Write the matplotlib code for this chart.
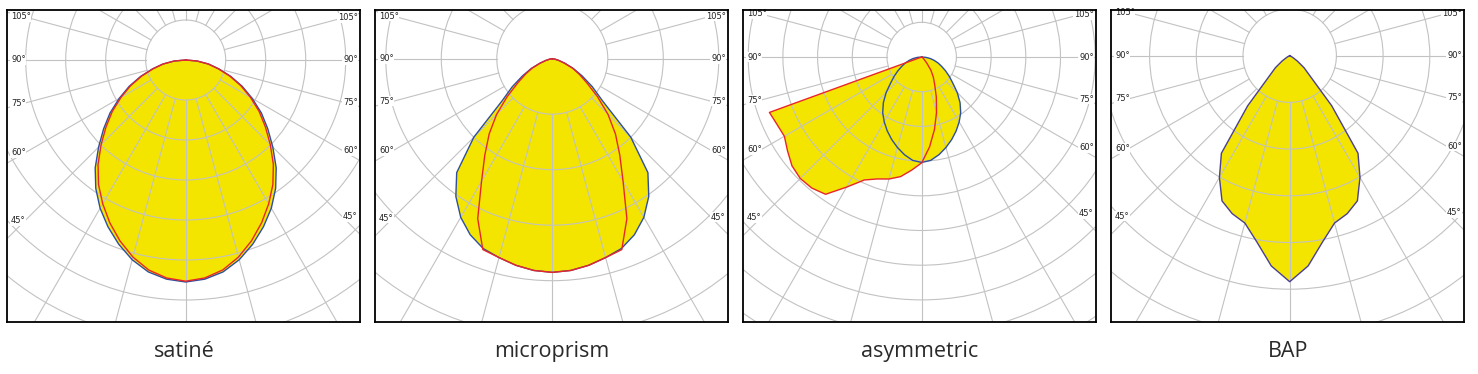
import numpy as np
import matplotlib.pyplot as plt
from matplotlib.patches import Circle

# intensity values, in units of one grid ring,
# gamma angle measured from nadir, 0..90 deg in 5 deg steps
angles = [0, 5, 10, 15, 20, 25, 30, 35, 40, 45, 50, 55, 60, 65, 70, 75, 80, 85, 90]

satine_c0 = [5.55, 5.50, 5.38, 5.17, 4.90, 4.60, 4.28, 3.92, 3.52, 3.08,
             2.68, 2.31, 1.92, 1.56, 1.20, 0.86, 0.58, 0.29, 0.0]
satine_c90 = [5.53, 5.47, 5.33, 5.10, 4.81, 4.49, 4.15, 3.80, 3.41, 2.99,
              2.60, 2.24, 1.87, 1.52, 1.17, 0.84, 0.57, 0.28, 0.0]

microprism_c0 = [3.85, 3.83, 3.78, 3.71, 3.64, 3.50, 3.30, 3.03, 2.68, 2.00,
                 1.18, 0.88, 0.62, 0.42, 0.24, 0.12, 0.05, 0.015, 0.0]
microprism_c90 = [3.85, 3.83, 3.78, 3.71, 3.66, 3.18, 2.55, 2.12, 1.77, 1.42,
                  1.06, 0.76, 0.56, 0.40, 0.23, 0.12, 0.05, 0.015, 0.0]

asym_c90 = [3.04, 2.99, 2.86, 2.70, 2.53, 2.35, 2.16, 1.96, 1.72, 1.45,
            1.17, 0.97, 0.79, 0.63, 0.50, 0.37, 0.25, 0.12, 0.0]
asym_c0_left = [3.05, 3.27, 3.50, 3.64, 3.74, 3.91, 4.33, 4.83, 4.93, 4.95,
                4.88, 4.72, 4.57, 4.60, 4.67, 0.0, 0.0, 0.0, 0.0]
asym_c0_right = [3.05, 2.60, 2.12, 1.65, 1.23, 0.89, 0.67, 0.46, 0.22, 0.10,
                 0.05, 0.02, 0.0, 0.0, 0.0, 0.0, 0.0, 0.0, 0.0]

bap_c0 = [4.84, 4.52, 4.05, 3.71, 3.60, 3.43, 3.01, 2.55, 1.40, 0.62,
          0.40, 0.20, 0.08, 0.03, 0.0, 0.0, 0.0, 0.0, 0.0]

names = ["satiné", "microprism", "asymmetric", "BAP"]
label_angles = [45, 60, 75, 90, 105]

YELLOW = "#f3e500"
BLUE = "#2e4f9e"
RED = "#e8262a"
PURPLE = "#4b3f8f"
GRID = "#c2c2c2"

# (left/right curve data, colour) for every panel
curves = [
    [(satine_c0, satine_c0, BLUE), (satine_c90, satine_c90, RED)],
    [(microprism_c0, microprism_c0, BLUE), (microprism_c90, microprism_c90, RED)],
    [(asym_c90, asym_c90, BLUE), (asym_c0_left, asym_c0_right, RED)],
    [(bap_c0, bap_c0, PURPLE)],
]

# layout in pixels: box size, box left edges, centre offset and ring size
W, H, TOP = 353, 312, 10
FW, FH = 1478, 374
box_left = [7.3, 375.3, 743.3, 1111.3]
centre = [(178.4, 50.0), (177.0, 48.7), (178.4, 47.0), (178.4, 45.7)]
ring_px = [40.0, 55.5, 34.7, 46.7]


def outline(left, right):
    t = np.radians(angles)
    l = np.array(left)
    r = np.array(right)
    xl, yl = -l * np.sin(t), -l * np.cos(t)
    xr, yr = r * np.sin(t), -r * np.cos(t)
    x = np.concatenate([xl[::-1], xr[1:]])
    y = np.concatenate([yl[::-1], yr[1:]])
    return x, y


fig = plt.figure(figsize=(FW / 100, FH / 100), dpi=100)

for i in range(4):
    cx, cy = centre[i]
    R = ring_px[i]
    ax = fig.add_axes([box_left[i] / FW, 1 - (TOP + H) / FH, W / FW, H / FH])
    ax.set_xlim(-cx / R, (W - cx) / R)
    ax.set_ylim(-(H - cy) / R, cy / R)
    ax.set_xticks([])
    ax.set_yticks([])
    for s in ax.spines.values():
        s.set_linewidth(1.3)
        s.set_color("black")
        s.set_zorder(10)

    # yellow distributions
    for left, right, col in curves[i]:
        x, y = outline(left, right)
        ax.fill(x, y, color=YELLOW, lw=0, zorder=1)

    # polar grid
    for k in range(1, 16):
        ax.add_patch(Circle((0, 0), k, fill=False, ec=GRID, lw=0.8, zorder=2))
    for a in range(0, 360, 15):
        t = np.radians(a)
        ax.plot([np.sin(t), 30 * np.sin(t)], [-np.cos(t), -30 * np.cos(t)],
                color=GRID, lw=0.8, zorder=2)

    # outlines
    for left, right, col in curves[i]:
        x, y = outline(left, right)
        ax.plot(x, y, color=col, lw=1.0, zorder=3, solid_joinstyle="round")

    # angle labels on both sides
    xl = -(cx - 17.7) / R
    xr = (W - cx - 17.7) / R
    for a in label_angles:
        cot = np.cos(np.radians(a)) / np.sin(np.radians(a))
        ax.text(-cx / R + 3.7 / R, xl * cot, f"{a}°", ha="left", va="center",
                fontsize=6, color="#222222", zorder=5,
                bbox=dict(fc="white", ec="none", pad=0.4))
        ax.text((W - cx) / R - 2.6 / R, -xr * cot, f"{a}°", ha="right", va="center",
                fontsize=6, color="#222222", zorder=5,
                bbox=dict(fc="white", ec="none", pad=0.4))

    fig.text((box_left[i] + W / 2) / FW, 1 - 357 / FH, names[i], ha="center",
             va="baseline", fontsize=15.5, family="Open Sans", color="#2a2a2a")

fig.savefig("out.png", dpi=100)
